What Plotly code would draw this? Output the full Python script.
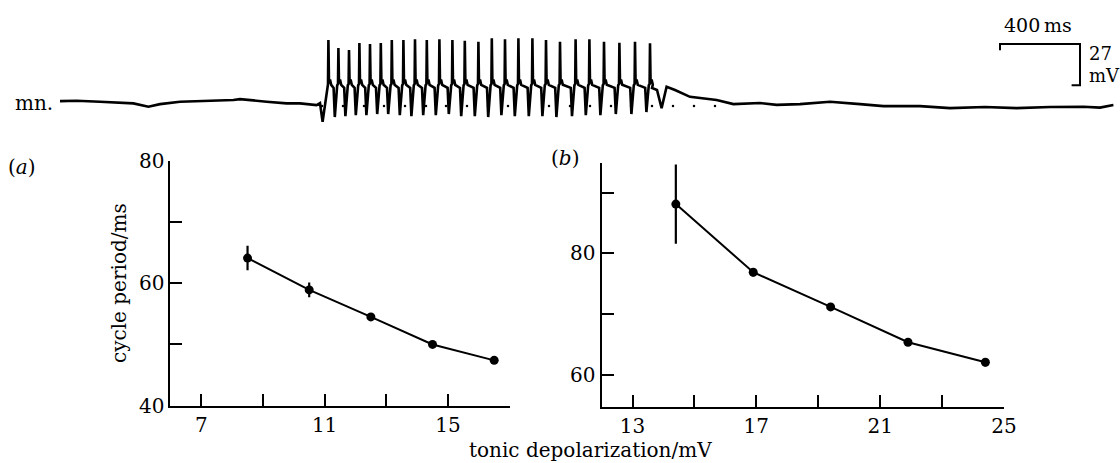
import plotly.graph_objects as go

# ---------------- data: panel (a) ----------------
a_x = [8.5, 10.5, 12.5, 14.5, 16.5]
a_y = [64.1, 58.9, 54.5, 50.0, 47.4]
a_err = [2.0, 1.2, 0.4, 0.6, 0.6]

# ---------------- data: panel (b) ----------------
b_x = [14.4, 16.9, 19.4, 21.9, 24.4]
b_y = [88.1, 76.9, 71.2, 65.4, 62.1]
b_err = [6.5, 0.7, 0.6, 0.6, 0.7]

a_xticks = [7, 9, 11, 13, 15, 17]
a_xlabels = ["7", "", "11", "", "15", ""]
a_yticks = [40, 50, 60, 70, 80]
a_ylabels = ["40", "", "60", "", "80"]
b_xticks = [13, 15, 17, 19, 21, 23, 25]
b_xlabels = ["13", "", "17", "", "21", "", "25"]
b_yticks = [60, 70, 80, 90]
b_ylabels = ["60", "", "80", ""]

# ---------------- data: motoneurone trace (ms, mV rel. rest) ----------------
pre_t = [0, 83, 200, 283, 367, 442, 500, 600, 700, 800, 867, 900, 967, 1033, 1133, 1200, 1283, 1300]
pre_v = [1.3, 1.5, 0.9, 0.2, -0.2, -2.4, -0.7, 0.9, 1.3, 1.5, 2.0, 2.6, 1.5, 0.9, -0.2, -0.2, -1.3, 0.0]

spike_t = [1342, 1392, 1445, 1497, 1550, 1604, 1659, 1717, 1775, 1834, 1897, 1962, 2024,
           2092, 2159, 2225, 2292, 2362, 2430, 2500, 2578, 2647, 2720, 2797, 2875, 2950]
spike_peak = [41.4, 36.2, 34.9, 39.5, 38.8, 39.5, 41.4, 41.4, 41.9, 41.4, 41.9, 41.4, 41.0,
              40.3, 42.6, 41.9, 42.6, 42.6, 41.4, 40.3, 41.9, 41.9, 40.3, 39.7, 40.3, 39.3]
spike_trough = [-12.3, -9.2, -8.6, -7.9, -7.9, -7.2, -7.2, -7.9, -8.6, -7.9, -7.9, -7.2, -8.6,
                -8.6, -9.2, -7.9, -8.6, -8.6, -8.6, -9.2, -8.6, -7.9, -7.9, -7.2, -7.2, -5.9]
plateau_hi = 15.5
plateau_lo = 10.0
post_t = [2960, 2985, 3008, 3033, 3075, 3150, 3283, 3367, 3500, 3583, 3700, 3850, 4000,
          4117, 4300, 4450, 4625, 4783, 4950, 5117, 5200, 5267]
post_v = [9.9, 8.6, -3.3, 10.7, 8.6, 4.1, 2.0, -0.7, 0.0, -1.2, -0.7, 0.9, -0.7,
          -2.0, -2.0, -3.3, -2.6, -3.3, -2.6, -2.4, -3.0, -1.3]
dot_t = [1310, 1415, 1520, 1620, 1725, 1830, 1930, 2035, 2140, 2240, 2345, 2445,
         2550, 2650, 2755, 2855, 2960, 3065, 3170, 3275]
dot_v = -2.0

scale_ms = 400
scale_mv = 27

# build the trace polyline
tr_t = list(pre_t)
tr_v = list(pre_v)
for i, (ts, pk, tg) in enumerate(zip(spike_t, spike_peak, spike_trough)):
    if i > 0:
        tr_t.append(ts - 24); tr_v.append(plateau_lo)
    tr_t += [ts - 18 if i > 0 else 1313, ts - 6, ts - 2, ts, ts + 3, ts + 8, ts + 14]
    tr_v += [tg, 11.8, 12.5, pk, 13.0, plateau_hi, 12.0]
tr_t += post_t
tr_v += post_v

FONT = "DejaVu Serif"
INK = "#000000"

fig = go.Figure()

fig.add_trace(go.Scatter(x=dot_t, y=[dot_v] * len(dot_t), mode="markers",
                         marker=dict(size=2.5, color=INK), xaxis="x3", yaxis="y3",
                         hoverinfo="skip"))
fig.add_trace(go.Scatter(x=tr_t, y=tr_v, mode="lines", line=dict(color=INK, width=2.6),
                         xaxis="x3", yaxis="y3"))

fig.add_trace(go.Scatter(x=a_x, y=a_y, mode="lines+markers",
                         line=dict(color=INK, width=2), marker=dict(size=9, color=INK),
                         error_y=dict(type="data", array=a_err, width=0, thickness=2.2, color=INK),
                         xaxis="x", yaxis="y"))
fig.add_trace(go.Scatter(x=b_x, y=b_y, mode="lines+markers",
                         line=dict(color=INK, width=2), marker=dict(size=9, color=INK),
                         error_y=dict(type="data", array=b_err, width=0, thickness=2.2, color=INK),
                         xaxis="x2", yaxis="y2"))

# scale bar
sb_x0 = 4700
sb_y = 38.8
fig.add_shape(type="path", xref="x3", yref="y3",
              path=(f"M {sb_x0} {sb_y - 4} L {sb_x0} {sb_y} L {sb_x0 + scale_ms} {sb_y} "
                    f"L {sb_x0 + scale_ms} {sb_y - scale_mv} L {sb_x0 + scale_ms - 42} {sb_y - scale_mv}"),
              line=dict(color=INK, width=2))

ax_common = dict(showline=True, linewidth=2, linecolor=INK, ticks="inside", ticklen=12,
                 tickwidth=1.6, tickcolor=INK, showgrid=False, zeroline=False, automargin=False,
                 tickfont=dict(family=FONT, size=20, color=INK), fixedrange=True)

fig.update_layout(
    template="none",
    width=1120, height=463, autosize=False, margin=dict(l=0, r=0, t=0, b=0, pad=0),
    paper_bgcolor="white", plot_bgcolor="rgba(0,0,0,0)", showlegend=False,
    xaxis=dict(domain=[0.1522, 0.4550], range=[6, 17], tickvals=a_xticks, ticktext=a_xlabels,
               anchor="y", **ax_common),
    yaxis=dict(domain=[0.1238, 0.6529], range=[40, 80], tickvals=a_yticks, ticktext=a_ylabels,
               anchor="x", **ax_common),
    xaxis2=dict(domain=[0.5371, 0.8964], range=[12, 25], tickvals=b_xticks, ticktext=b_xlabels,
                anchor="y2", **ax_common),
    yaxis2=dict(domain=[0.1216, 0.6486], range=[54.8, 94.9], tickvals=b_yticks, ticktext=b_ylabels,
                anchor="x2", **ax_common),
    xaxis3=dict(domain=[0, 1], range=[-300, 5300], visible=False, anchor="y3", fixedrange=True,
                automargin=False),
    yaxis3=dict(domain=[0.6976, 1], range=[-24.3, 67.8], visible=False, anchor="x3", fixedrange=True,
                automargin=False),
)

def ann(text, x, y, xref="paper", yref="paper", size=20, xanchor="center", yanchor="middle", angle=0):
    fig.add_annotation(text=text, x=x, y=y, xref=xref, yref=yref, showarrow=False,
                       xanchor=xanchor, yanchor=yanchor, textangle=angle,
                       font=dict(family=FONT, size=size, color=INK))

ann("mn.", 13 / 1120, 1 - 103 / 463, xanchor="left")
ann("400\u2009ms", 4890, 51.3, xref="x3", yref="y3", size=19)
ann("27", 5135, 32.9, xref="x3", yref="y3", size=18, xanchor="left")
ann("mV", 5135, 18.4, xref="x3", yref="y3", size=18, xanchor="left")
ann("(<i>a</i>)", 22 / 1120, 1 - 167 / 463, size=20)
ann("(<i>b</i>)", 565 / 1120, 1 - 158 / 463, size=20)
ann("cycle period/ms", 119 / 1120, 1 - 283 / 463, angle=-90)
ann("tonic depolarization/mV", 590 / 1120, 1 - 450 / 463)

fig.write_html("out.html", config={"displayModeBar": False},
               post_script="document.body.style.margin='0';document.body.style.overflow='hidden';")
